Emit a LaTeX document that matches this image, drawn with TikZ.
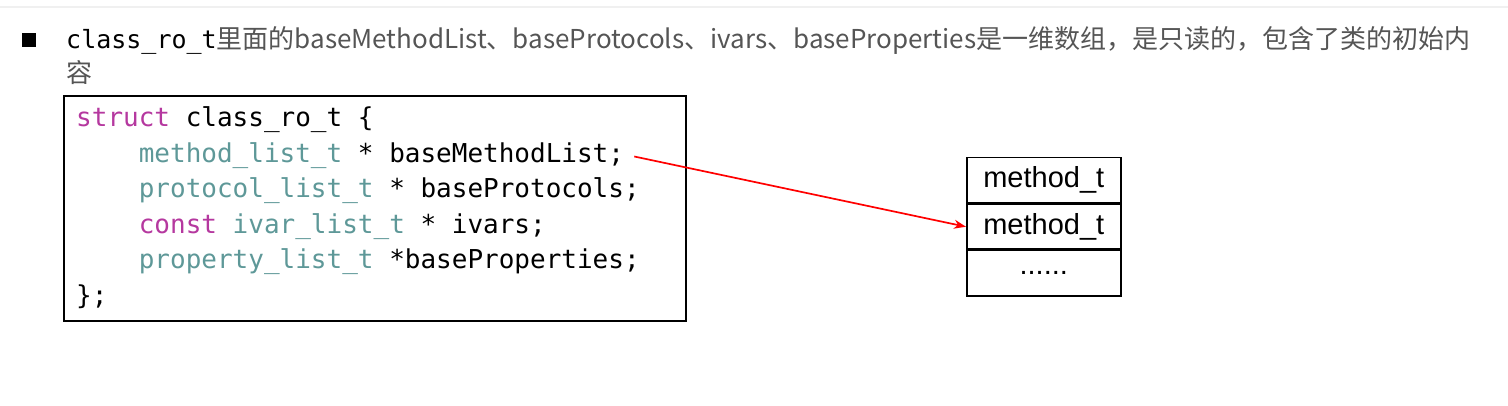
\documentclass[tikz,border=0pt]{standalone}
\usepackage{fontspec}
\setmonofont{DejaVu Sans Mono}
\setsansfont{Liberation Sans}
\newfontfamily\cjk{Noto Sans CJK SC}
\usetikzlibrary{arrows.meta}
\definecolor{kw}{HTML}{B5389F}
\definecolor{ty}{HTML}{5E9898}
\definecolor{txt}{HTML}{555555}
\definecolor{rule}{HTML}{F0F0F0}
\tikzset{
  code/.style={inner sep=0pt, anchor=base west, font=\ttfamily\fontsize{26}{30}\selectfont},
  head/.style={inner sep=0pt, anchor=base west, text=txt, font=\cjk\fontsize{26}{30}\selectfont},
  cell/.style={draw=black, line width=1.5pt, minimum width=154pt, minimum height=45pt, inner sep=0pt, font=\sffamily\fontsize{29}{32}\selectfont},
  link/.style={draw=red, line width=1.7pt, -{Stealth[length=12pt,width=9pt]}}
}
\begin{document}
\begin{tikzpicture}[x=1pt,y=-1pt]
\useasboundingbox (0,0) rectangle (1508,406);
\draw[rule, line width=1.5pt] (0,7) -- (1508,7);
\node[fill=black, minimum size=14pt, inner sep=0pt] (bullet) at (29,40) {};
\node[head] (h1) at (66,49) {{\ttfamily\fontsize{25}{28}\selectfont\color{black}class\_ro\_t}里面的baseMethodList、baseProtocols、ivars、baseProperties是一维数组，是只读的，包含了类的初始内};
\node[head] (h2) at (66,83) {容};
\node[draw=black, line width=2pt, minimum width=622pt, minimum height=225pt, inner sep=0pt, anchor=north west] (box) at (63,95) {};
\node[code] (c1) at (76,127) {\textcolor{kw}{struct} class\_ro\_t \{};
\node[code] (c2) at (76,162.5) {\hphantom{xxxx}\textcolor{ty}{method\_list\_t} * baseMethodList;};
\node[code] (c3) at (76,198) {\hphantom{xxxx}\textcolor{ty}{protocol\_list\_t} * baseProtocols;};
\node[code] (c4) at (76,233.5) {\hphantom{xxxx}\textcolor{kw}{const} \textcolor{ty}{ivar\_list\_t} * ivars;};
\node[code] (c5) at (76,269) {\hphantom{xxxx}\textcolor{ty}{property\_list\_t} *baseProperties;};
\node[code] (c6) at (76,304.5) {\};};
\node[cell, anchor=north west] (m1) at (966,157) {method\_t};
\node[cell, anchor=north] (m2) at (m1.south) {method\_t};
\node[cell, anchor=north] (m3) at (m2.south) {......};
\coordinate (src) at ([xshift=10pt,yshift=6pt]c2.base east);
\draw[link] (src) -- (m2.west);
\end{tikzpicture}
\end{document}
